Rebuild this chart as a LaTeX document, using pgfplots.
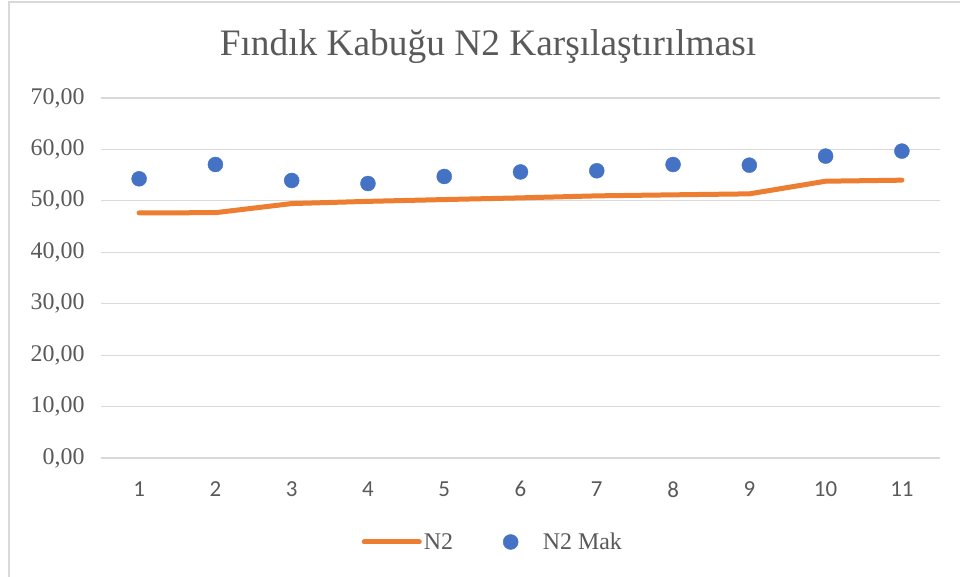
\documentclass[border=0pt]{standalone}
\usepackage{pgfplots}
\pgfplotsset{compat=1.18}
\usepackage{fontspec}
\setmainfont{Liberation Serif}
\newfontfamily\carlito{Carlito}
\definecolor{gridc}{HTML}{D9D9D9}
\definecolor{txt}{HTML}{595959}
\definecolor{orng}{HTML}{ED7D31}
\definecolor{blu}{HTML}{4472C4}
\begin{document}
\begin{tikzpicture}[x=1bp,y=1bp]
\useasboundingbox (0,0) rectangle (960,577);
\draw[gridc, line width=1.2bp] (9,-5) -- (9,575) -- (965,575);
\node[anchor=base, text=txt, font=\fontsize{37.5}{40}\selectfont] at (488,521) {Fındık Kabuğu N2 Karşılaştırılması};
\begin{axis}[
  at={(101bp,119bp)}, anchor=south west, scale only axis,
  width=839bp, height=360bp,
  xmin=0.5, xmax=11.5, ymin=0, ymax=70,
  xtick={1,...,11}, ytick={0,10,...,70},
  axis line style={draw=none},
  major tick length=0pt,
  ymajorgrids, grid style={gridc, line width=1.2bp},
  /pgf/number format/assume math mode=true,
  yticklabel style={/pgf/number format/.cd, fixed, fixed zerofill, precision=2, use comma, /tikz/.cd, text=txt, font=\fontsize{24}{24}\selectfont, xshift=-13bp},
  xticklabel style={text=txt, font=\carlito\fontsize{23}{23}\selectfont, yshift=-20bp},
  legend columns=2,
  legend style={at={(0.467,-0.2333)}, anchor=center, draw=none, fill=none, text=txt, font=\fontsize{24}{24}\selectfont, /tikz/every even column/.append style={column sep=48bp}},
  clip=false,
]
\addplot[orng, line width=5bp, line cap=round, line join=round, mark=none,
  legend image code/.code={\draw[orng, line width=5bp, line cap=round] (-55bp,0) -- (0bp,0);}]
  coordinates {(1,47.66)(2,47.70)(3,49.47)(4,49.90)(5,50.25)(6,50.58)(7,50.97)(8,51.17)(9,51.36)(10,53.82)(11,54.02)};
\addlegendentry{N2}
\addplot[only marks, mark=*, mark size=7.5bp, mark options={fill=blu, draw=blu},
  legend image code/.code={\fill[blu] (-30bp,0) circle (7.5bp); \path (0,0);}]
  coordinates {(1,54.29)(2,57.07)(3,53.96)(4,53.37)(5,54.74)(6,55.62)(7,55.85)(8,57.07)(9,56.94)(10,58.70)(11,59.67)};
\addlegendentry{N2 Mak}
\end{axis}
\end{tikzpicture}
\end{document}
